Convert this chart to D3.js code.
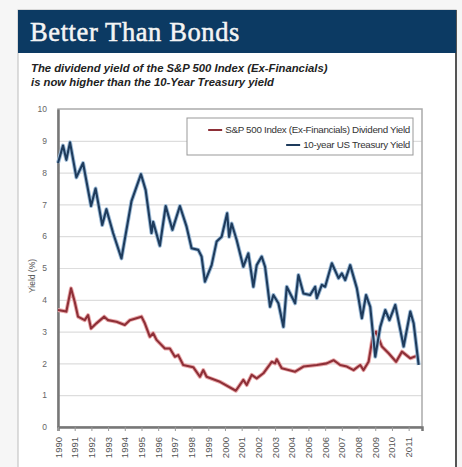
<!DOCTYPE html>
<html>
  <head>
    <script type="text/javascript" src="https://cdn.jsdelivr.net/npm/d3@7"></script>
    <style type="text/css">

html, body {
  margin: 0;
  background: #f6f6f6;
}

svg {
  display: block;
}

.axis text {
  font: 8.5px "Liberation Sans", sans-serif;
  fill: #666;
}

.grid line {
  stroke: #ddd;
  stroke-width: 1.2;
}

    </style>
  </head>
  <body>
    <div id="chart"></div>
    <script type="text/javascript">

// 10-year treasury yield (decimal year, %)
var treasuryYears = [1990.0, 1990.3, 1990.5, 1990.72, 1991.1, 1991.5, 1991.98, 1992.25, 1992.65, 1992.9,
  1993.3, 1993.8, 1994.4, 1994.97, 1995.25, 1995.6, 1995.7, 1996.1, 1996.45, 1996.85,
  1997.3, 1997.7, 1998.0, 1998.4, 1998.6, 1998.8, 1999.2, 1999.5, 1999.8, 2000.13,
  2000.25, 2000.4, 2000.7, 2001.1, 2001.4, 2001.7, 2001.9, 2002.2, 2002.4, 2002.7,
  2002.9, 2003.2, 2003.5, 2003.7, 2004.2, 2004.4, 2004.7, 2005.1, 2005.4, 2005.5,
  2005.8, 2006.0, 2006.4, 2006.8, 2007.0, 2007.2, 2007.5, 2007.9, 2008.2, 2008.45,
  2008.7, 2009.0, 2009.3, 2009.6, 2009.85, 2010.2, 2010.7, 2011.1, 2011.3, 2011.6];
var treasuryYield = [8.3, 8.85, 8.4, 8.95, 7.85, 8.3, 6.95, 7.5, 6.35, 6.85,
  6.1, 5.3, 7.1, 7.95, 7.45, 6.1, 6.45, 5.7, 6.95, 6.2,
  6.95, 6.3, 5.62, 5.57, 5.36, 4.57, 5.09, 5.83, 5.98, 6.72,
  5.98, 6.4, 5.88, 5.04, 5.46, 4.41, 5.09, 5.36, 5.04, 3.78,
  4.15, 3.89, 3.15, 4.41, 3.89, 4.78, 4.2, 4.15, 4.41, 4.05,
  4.47, 4.41, 5.15, 4.68, 4.83, 4.62, 5.09, 4.36, 3.42, 4.15,
  3.78, 2.21, 3.15, 3.68, 3.36, 3.84, 2.53, 3.63, 3.26, 1.95];

// S&P 500 ex-financials dividend yield
var dividendYears = [1990.0, 1990.5, 1990.78, 1991.0, 1991.2, 1991.6, 1991.8, 1991.98, 1992.3, 1992.77,
  1993.0, 1993.5, 1994.0, 1994.3, 1995.0, 1995.2, 1995.5, 1995.7, 1995.9, 1996.4,
  1996.7, 1997.0, 1997.2, 1997.5, 1998.1, 1998.5, 1998.7, 1998.9, 1999.7, 2000.65,
  2001.1, 2001.3, 2001.6, 2001.9, 2002.3, 2002.8, 2003.0, 2003.1, 2003.4, 2004.2,
  2004.7, 2005.5, 2006.1, 2006.5, 2006.9, 2007.3, 2007.7, 2008.1, 2008.3, 2008.6,
  2008.85, 2009.05, 2009.4, 2009.8, 2010.25, 2010.6, 2011.1, 2011.6];
var dividendYield = [3.68, 3.63, 4.36, 3.94, 3.47, 3.36, 3.52, 3.1, 3.26, 3.47,
  3.36, 3.31, 3.21, 3.36, 3.47, 3.26, 2.84, 2.95, 2.74, 2.47,
  2.47, 2.21, 2.26, 1.95, 1.88, 1.58, 1.79, 1.58, 1.42, 1.14,
  1.48, 1.32, 1.64, 1.53, 1.69, 2.05, 2.0, 2.13, 1.85, 1.74,
  1.9, 1.95, 2.0, 2.1, 1.95, 1.9, 1.79, 1.95, 1.79, 2.05,
  2.84, 3.0, 2.53, 2.32, 2.05, 2.37, 2.16, 2.26];

var yearLabels = d3.range(1990, 2012);
var yTicks = d3.range(0, 11);

var title = "Better Than Bonds";
var subtitle = ["The dividend yield of the S&P 500 Index (Ex-Financials)",
  "is now higher than the 10-Year Treasury yield"];
var legendNames = ["S&P 500 Index (Ex-Financials) Dividend Yield", "10-year US Treasury Yield"];

var W = 462, H = 467;
var svg = d3.select("#chart").append("svg")
    .attr("width", W)
    .attr("height", H);

// panel + header band
svg.append("rect")
    .attr("x", 18).attr("y", 10)
    .attr("width", 438).attr("height", H)
    .style("fill", "#fff")
    .style("stroke", "#bbb");
svg.append("line")
    .attr("x1", 456).attr("x2", 456).attr("y1", 10).attr("y2", H)
    .style("stroke", "#555").style("stroke-width", 2);
svg.append("rect")
    .attr("x", 18).attr("y", 10)
    .attr("width", 438).attr("height", 43)
    .style("fill", "#0c3a63");
svg.append("text")
    .attr("x", 30).attr("y", 41)
    .style("font", "26.5px 'Liberation Serif', serif")
    .style("letter-spacing", "0.6px")
    .style("fill", "#f4f4f4")
    .style("stroke", "#f4f4f4")
    .style("stroke-width", 0.5)
    .text(title);

svg.selectAll("text.sub")
    .data(subtitle)
  .enter().append("text")
    .attr("class", "sub")
    .attr("x", 31)
    .attr("y", function(d, i) { return 72 + i * 14; })
    .style("font", "italic bold 11.3px 'Liberation Sans', sans-serif")
    .style("fill", "#222")
    .text(function(d) { return d; });

// plot box (plotTop, not top: window.top is taken)
var plotLeft = 58, plotRight = 422, plotTop = 109, plotBottom = 427;

var x = d3.scaleLinear().domain([1990, 2011.8]).range([plotLeft, plotRight]);
var y = d3.scaleLinear().domain([0, 10]).range([plotBottom, plotTop]);

// gridlines
svg.append("g")
    .attr("class", "grid")
    .attr("transform", "translate(" + plotLeft + ",0)")
    .call(d3.axisLeft(y).tickValues(yTicks.slice(1, 10)).tickSize(-(plotRight - plotLeft)).tickFormat(""))
    .call(function(g) { g.select(".domain").remove(); });

// frame
svg.append("rect")
    .attr("x", plotLeft).attr("y", plotTop)
    .attr("width", plotRight - plotLeft).attr("height", plotBottom - plotTop)
    .style("fill", "none")
    .style("stroke", "#aaa")
    .style("stroke-width", 1.5);

var yAxis = svg.append("g")
    .attr("class", "axis")
    .attr("transform", "translate(" + plotLeft + ",0)")
    .call(d3.axisLeft(y).tickValues(yTicks).tickSize(0).tickPadding(11));
yAxis.select(".domain").style("stroke", "#777").style("stroke-width", 2.5);

var xAxis = svg.append("g")
    .attr("class", "axis")
    .attr("transform", "translate(0," + plotBottom + ")")
    .call(d3.axisBottom(x).tickValues(yearLabels).tickSize(4).tickFormat(d3.format("d")));
xAxis.select(".domain").style("stroke", "#777").style("stroke-width", 2.5);
xAxis.selectAll(".tick line").style("stroke", "#999");
xAxis.selectAll("text")
    .attr("transform", "rotate(-90)")
    .attr("x", -10).attr("y", 0).attr("dy", "0.32em")
    .style("text-anchor", "end")
    .style("font-size", "9.5px")
    .style("fill", "#555");

svg.append("text")
    .attr("transform", "translate(35,276) rotate(-90)")
    .style("font", "8.5px 'Liberation Sans', sans-serif")
    .style("fill", "#555")
    .style("text-anchor", "middle")
    .text("Yield (%)");

var line = d3.line()
    .x(function(d) { return x(d[0]); })
    .y(function(d) { return y(d[1]); });

var series = [
  {pts: d3.zip(dividendYears, dividendYield), color: "#8e2f37", halo: "#e9a9ab"},
  {pts: d3.zip(treasuryYears, treasuryYield), color: "#1e3b5c", halo: "#9cbad6"}
];

series.forEach(function(s) {
  svg.append("path")
      .datum(s.pts)
      .attr("d", line)
      .style("fill", "none")
      .style("stroke", s.halo)
      .style("stroke-width", 4)
      .style("stroke-linejoin", "round");
  svg.append("path")
      .datum(s.pts)
      .attr("d", line)
      .style("fill", "none")
      .style("stroke", s.color)
      .style("stroke-width", 2.1)
      .style("stroke-linejoin", "round");
});

// legend
var lg = svg.append("g");
lg.append("rect")
    .attr("x", 187).attr("y", 118)
    .attr("width", 226).attr("height", 37)
    .style("fill", "#fff")
    .style("stroke", "#999");
lg.selectAll("text")
    .data(legendNames)
  .enter().append("text")
    .attr("x", 410)
    .attr("y", function(d, i) { return 133 + i * 15; })
    .style("font", "9.8px 'Liberation Sans', sans-serif")
    .style("letter-spacing", "-0.3px")
    .style("fill", "#333")
    .style("text-anchor", "end")
    .text(function(d) { return d; });
lg.selectAll("text").each(function(d, i) {
  var bb = this.getBBox();
  lg.append("line")
      .attr("x1", bb.x - 17).attr("x2", bb.x - 3)
      .attr("y1", 130 + i * 15).attr("y2", 130 + i * 15)
      .style("stroke", series[i].color)
      .style("stroke-width", 2);
});

    </script>
  </body>
</html>
